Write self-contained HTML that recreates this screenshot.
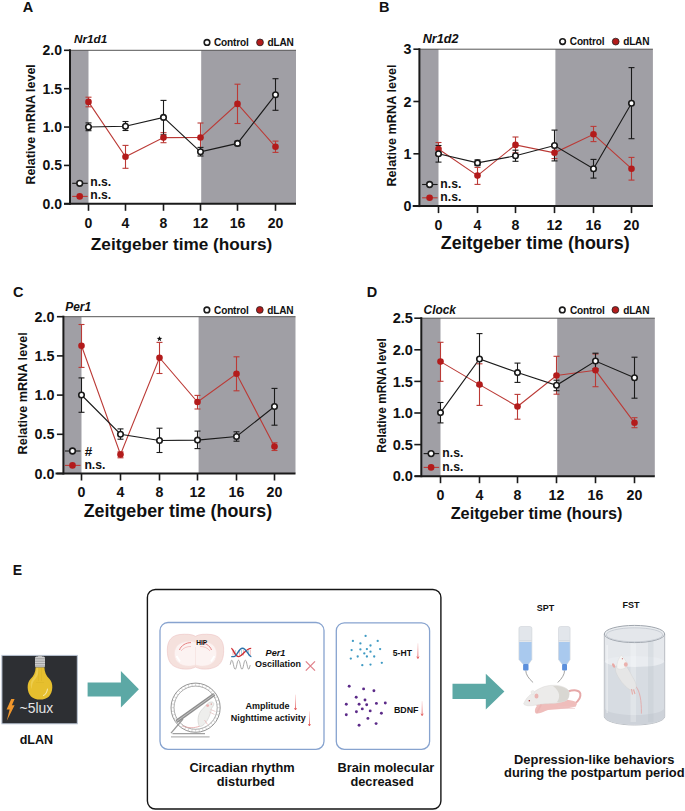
<!DOCTYPE html>
<html><head><meta charset="utf-8"><style>
html,body{margin:0;padding:0;background:#fff;}
svg{display:block;font-family:"Liberation Sans", sans-serif;}
</style></head><body>
<svg width="685" height="811" viewBox="0 0 685 811">
<rect width="685" height="811" fill="#fff"/>
<rect x="70" y="50.3" width="18.5" height="153.5" fill="#a09fa5"/>
<rect x="201.2" y="50.3" width="94.80000000000001" height="153.5" fill="#a09fa5"/>
<line x1="70" y1="50.3" x2="296" y2="50.3" stroke="#555" stroke-width="1"/>
<line x1="70" y1="49.3" x2="70" y2="204.8" stroke="#1a1a1a" stroke-width="2"/>
<line x1="64" y1="203.8" x2="296" y2="203.8" stroke="#1a1a1a" stroke-width="2"/>
<line x1="64" y1="203.8" x2="70" y2="203.8" stroke="#1a1a1a" stroke-width="1.6"/>
<text x="62" y="208.84" font-size="14" font-weight="bold" font-style="normal" text-anchor="end" fill="#111" >0.0</text>
<line x1="64" y1="165.425" x2="70" y2="165.425" stroke="#1a1a1a" stroke-width="1.6"/>
<text x="62" y="170.465" font-size="14" font-weight="bold" font-style="normal" text-anchor="end" fill="#111" >0.5</text>
<line x1="64" y1="127.05000000000001" x2="70" y2="127.05000000000001" stroke="#1a1a1a" stroke-width="1.6"/>
<text x="62" y="132.09" font-size="14" font-weight="bold" font-style="normal" text-anchor="end" fill="#111" >1.0</text>
<line x1="64" y1="88.67500000000001" x2="70" y2="88.67500000000001" stroke="#1a1a1a" stroke-width="1.6"/>
<text x="62" y="93.71500000000002" font-size="14" font-weight="bold" font-style="normal" text-anchor="end" fill="#111" >1.5</text>
<line x1="64" y1="50.30000000000001" x2="70" y2="50.30000000000001" stroke="#1a1a1a" stroke-width="1.6"/>
<text x="62" y="55.34000000000001" font-size="14" font-weight="bold" font-style="normal" text-anchor="end" fill="#111" >2.0</text>
<line x1="88.5" y1="203.8" x2="88.5" y2="210.8" stroke="#1a1a1a" stroke-width="1.6"/>
<text x="88.5" y="227.5" font-size="14" font-weight="bold" font-style="normal" text-anchor="middle" fill="#111" >0</text>
<line x1="125.5" y1="203.8" x2="125.5" y2="210.8" stroke="#1a1a1a" stroke-width="1.6"/>
<text x="125.5" y="227.5" font-size="14" font-weight="bold" font-style="normal" text-anchor="middle" fill="#111" >4</text>
<line x1="163.5" y1="203.8" x2="163.5" y2="210.8" stroke="#1a1a1a" stroke-width="1.6"/>
<text x="163.5" y="227.5" font-size="14" font-weight="bold" font-style="normal" text-anchor="middle" fill="#111" >8</text>
<line x1="200.5" y1="203.8" x2="200.5" y2="210.8" stroke="#1a1a1a" stroke-width="1.6"/>
<text x="200.5" y="227.5" font-size="14" font-weight="bold" font-style="normal" text-anchor="middle" fill="#111" >12</text>
<line x1="237.5" y1="203.8" x2="237.5" y2="210.8" stroke="#1a1a1a" stroke-width="1.6"/>
<text x="237.5" y="227.5" font-size="14" font-weight="bold" font-style="normal" text-anchor="middle" fill="#111" >16</text>
<line x1="275.5" y1="203.8" x2="275.5" y2="210.8" stroke="#1a1a1a" stroke-width="1.6"/>
<text x="275.5" y="227.5" font-size="14" font-weight="bold" font-style="normal" text-anchor="middle" fill="#111" >20</text>
<text x="181.6" y="249.5" font-size="17.2" font-weight="bold" font-style="normal" text-anchor="middle" fill="#111" >Zeitgeber time (hours)</text>
<text transform="translate(30.2,124.4) rotate(-90)" x="0" y="4.5" font-size="12.5" font-weight="bold" text-anchor="middle" fill="#111">Relative mRNA level</text>
<polyline points="88.5,101.9 125.5,156.8 163.5,137.6 200.5,137.5 237.5,103.9 275.5,146.8" fill="none" stroke="#bb3a36" stroke-width="1.1"/>
<polyline points="88.5,127 125.5,126.2 163.5,117.4 200.5,151.8 237.5,143.4 275.5,94.7" fill="none" stroke="#1a1a1a" stroke-width="1.1"/>
<line x1="88.5" y1="97.2" x2="88.5" y2="106.8" stroke="#bb3a36" stroke-width="1.1"/>
<line x1="85.5" y1="97.2" x2="91.5" y2="97.2" stroke="#bb3a36" stroke-width="1.1"/>
<line x1="85.5" y1="106.8" x2="91.5" y2="106.8" stroke="#bb3a36" stroke-width="1.1"/>
<line x1="125.5" y1="145.4" x2="125.5" y2="168.3" stroke="#bb3a36" stroke-width="1.1"/>
<line x1="122.5" y1="145.4" x2="128.5" y2="145.4" stroke="#bb3a36" stroke-width="1.1"/>
<line x1="122.5" y1="168.3" x2="128.5" y2="168.3" stroke="#bb3a36" stroke-width="1.1"/>
<line x1="163.5" y1="132.7" x2="163.5" y2="142.7" stroke="#bb3a36" stroke-width="1.1"/>
<line x1="160.5" y1="132.7" x2="166.5" y2="132.7" stroke="#bb3a36" stroke-width="1.1"/>
<line x1="160.5" y1="142.7" x2="166.5" y2="142.7" stroke="#bb3a36" stroke-width="1.1"/>
<line x1="200.5" y1="123" x2="200.5" y2="152" stroke="#bb3a36" stroke-width="1.1"/>
<line x1="197.5" y1="123" x2="203.5" y2="123" stroke="#bb3a36" stroke-width="1.1"/>
<line x1="197.5" y1="152" x2="203.5" y2="152" stroke="#bb3a36" stroke-width="1.1"/>
<line x1="237.5" y1="84.2" x2="237.5" y2="123.5" stroke="#bb3a36" stroke-width="1.1"/>
<line x1="234.5" y1="84.2" x2="240.5" y2="84.2" stroke="#bb3a36" stroke-width="1.1"/>
<line x1="234.5" y1="123.5" x2="240.5" y2="123.5" stroke="#bb3a36" stroke-width="1.1"/>
<line x1="275.5" y1="141.1" x2="275.5" y2="152.4" stroke="#bb3a36" stroke-width="1.1"/>
<line x1="272.5" y1="141.1" x2="278.5" y2="141.1" stroke="#bb3a36" stroke-width="1.1"/>
<line x1="272.5" y1="152.4" x2="278.5" y2="152.4" stroke="#bb3a36" stroke-width="1.1"/>
<line x1="88.5" y1="122.9" x2="88.5" y2="130.7" stroke="#1a1a1a" stroke-width="1.1"/>
<line x1="85.5" y1="122.9" x2="91.5" y2="122.9" stroke="#1a1a1a" stroke-width="1.1"/>
<line x1="85.5" y1="130.7" x2="91.5" y2="130.7" stroke="#1a1a1a" stroke-width="1.1"/>
<line x1="125.5" y1="121.5" x2="125.5" y2="130.5" stroke="#1a1a1a" stroke-width="1.1"/>
<line x1="122.5" y1="121.5" x2="128.5" y2="121.5" stroke="#1a1a1a" stroke-width="1.1"/>
<line x1="122.5" y1="130.5" x2="128.5" y2="130.5" stroke="#1a1a1a" stroke-width="1.1"/>
<line x1="163.5" y1="100.4" x2="163.5" y2="134.8" stroke="#1a1a1a" stroke-width="1.1"/>
<line x1="160.5" y1="100.4" x2="166.5" y2="100.4" stroke="#1a1a1a" stroke-width="1.1"/>
<line x1="160.5" y1="134.8" x2="166.5" y2="134.8" stroke="#1a1a1a" stroke-width="1.1"/>
<line x1="200.5" y1="147.4" x2="200.5" y2="156" stroke="#1a1a1a" stroke-width="1.1"/>
<line x1="197.5" y1="147.4" x2="203.5" y2="147.4" stroke="#1a1a1a" stroke-width="1.1"/>
<line x1="197.5" y1="156" x2="203.5" y2="156" stroke="#1a1a1a" stroke-width="1.1"/>
<line x1="237.5" y1="141.2" x2="237.5" y2="145.6" stroke="#1a1a1a" stroke-width="1.1"/>
<line x1="234.5" y1="141.2" x2="240.5" y2="141.2" stroke="#1a1a1a" stroke-width="1.1"/>
<line x1="234.5" y1="145.6" x2="240.5" y2="145.6" stroke="#1a1a1a" stroke-width="1.1"/>
<line x1="275.5" y1="78.7" x2="275.5" y2="110.3" stroke="#1a1a1a" stroke-width="1.1"/>
<line x1="272.5" y1="78.7" x2="278.5" y2="78.7" stroke="#1a1a1a" stroke-width="1.1"/>
<line x1="272.5" y1="110.3" x2="278.5" y2="110.3" stroke="#1a1a1a" stroke-width="1.1"/>
<circle cx="88.5" cy="101.9" r="3.3" fill="#b31b1b"/>
<circle cx="125.5" cy="156.8" r="3.3" fill="#b31b1b"/>
<circle cx="163.5" cy="137.6" r="3.3" fill="#b31b1b"/>
<circle cx="200.5" cy="137.5" r="3.3" fill="#b31b1b"/>
<circle cx="237.5" cy="103.9" r="3.3" fill="#b31b1b"/>
<circle cx="275.5" cy="146.8" r="3.3" fill="#b31b1b"/>
<circle cx="88.5" cy="127" r="2.75" fill="#fff" stroke="#1a1a1a" stroke-width="1.6"/>
<circle cx="125.5" cy="126.2" r="2.75" fill="#fff" stroke="#1a1a1a" stroke-width="1.6"/>
<circle cx="163.5" cy="117.4" r="2.75" fill="#fff" stroke="#1a1a1a" stroke-width="1.6"/>
<circle cx="200.5" cy="151.8" r="2.75" fill="#fff" stroke="#1a1a1a" stroke-width="1.6"/>
<circle cx="237.5" cy="143.4" r="2.75" fill="#fff" stroke="#1a1a1a" stroke-width="1.6"/>
<circle cx="275.5" cy="94.7" r="2.75" fill="#fff" stroke="#1a1a1a" stroke-width="1.6"/>
<line x1="72.2" y1="183.3" x2="87.7" y2="183.3" stroke="#1a1a1a" stroke-width="1.1"/>
<circle cx="79.7" cy="183.3" r="2.85" fill="#fff" stroke="#1a1a1a" stroke-width="1.6"/>
<line x1="72.2" y1="196.4" x2="87.7" y2="196.4" stroke="#bb3a36" stroke-width="1.1"/>
<circle cx="79.7" cy="196.4" r="3.3" fill="#b31b1b"/>
<text x="90.2" y="186.10000000000002" font-size="12.2" font-weight="bold" font-style="normal" text-anchor="start" fill="#111" >n.s.</text>
<text x="90.2" y="199.20000000000002" font-size="12.2" font-weight="bold" font-style="normal" text-anchor="start" fill="#111" >n.s.</text>
<circle cx="207" cy="42.4" r="2.8" fill="#fff" stroke="#1a1a1a" stroke-width="1.6"/>
<text x="214" y="46.137" font-size="10.1" font-weight="bold" font-style="normal" text-anchor="start" fill="#111" letter-spacing="-0.2">Control</text>
<circle cx="260" cy="42.4" r="3.4" fill="#b31b1b" stroke="#222" stroke-width="0.8"/>
<text x="267.6" y="46.137" font-size="10.1" font-weight="bold" font-style="normal" text-anchor="start" fill="#111" letter-spacing="-0.2">dLAN</text>
<text x="73.9" y="42.9" font-size="11.75" font-weight="bold" font-style="italic" text-anchor="start" fill="#111" >Nr1d1</text>
<text x="22.8" y="11.5" font-size="14.5" font-weight="bold" font-style="normal" text-anchor="start" fill="#111" >A</text>
<rect x="419.4" y="49.2" width="19.100000000000023" height="156.89999999999998" fill="#a09fa5"/>
<rect x="555.4" y="49.2" width="97.5" height="156.89999999999998" fill="#a09fa5"/>
<line x1="419.4" y1="49.2" x2="652.9" y2="49.2" stroke="#555" stroke-width="1"/>
<line x1="419.4" y1="48.2" x2="419.4" y2="207.1" stroke="#1a1a1a" stroke-width="2"/>
<line x1="412.7" y1="206.1" x2="652.9" y2="206.1" stroke="#1a1a1a" stroke-width="2"/>
<line x1="413.4" y1="206.1" x2="419.4" y2="206.1" stroke="#1a1a1a" stroke-width="1.6"/>
<text x="411.5" y="211.248" font-size="14.3" font-weight="bold" font-style="normal" text-anchor="end" fill="#111" >0</text>
<line x1="413.4" y1="153.8" x2="419.4" y2="153.8" stroke="#1a1a1a" stroke-width="1.6"/>
<text x="411.5" y="158.948" font-size="14.3" font-weight="bold" font-style="normal" text-anchor="end" fill="#111" >1</text>
<line x1="413.4" y1="101.50000000000001" x2="419.4" y2="101.50000000000001" stroke="#1a1a1a" stroke-width="1.6"/>
<text x="411.5" y="106.64800000000001" font-size="14.3" font-weight="bold" font-style="normal" text-anchor="end" fill="#111" >2</text>
<line x1="413.4" y1="49.20000000000002" x2="419.4" y2="49.20000000000002" stroke="#1a1a1a" stroke-width="1.6"/>
<text x="411.5" y="54.34800000000001" font-size="14.3" font-weight="bold" font-style="normal" text-anchor="end" fill="#111" >3</text>
<line x1="438.5" y1="206.1" x2="438.5" y2="213.1" stroke="#1a1a1a" stroke-width="1.6"/>
<text x="438.5" y="230" font-size="14.2" font-weight="bold" font-style="normal" text-anchor="middle" fill="#111" >0</text>
<line x1="477.5" y1="206.1" x2="477.5" y2="213.1" stroke="#1a1a1a" stroke-width="1.6"/>
<text x="477.5" y="230" font-size="14.2" font-weight="bold" font-style="normal" text-anchor="middle" fill="#111" >4</text>
<line x1="515.5" y1="206.1" x2="515.5" y2="213.1" stroke="#1a1a1a" stroke-width="1.6"/>
<text x="515.5" y="230" font-size="14.2" font-weight="bold" font-style="normal" text-anchor="middle" fill="#111" >8</text>
<line x1="554.5" y1="206.1" x2="554.5" y2="213.1" stroke="#1a1a1a" stroke-width="1.6"/>
<text x="554.5" y="230" font-size="14.2" font-weight="bold" font-style="normal" text-anchor="middle" fill="#111" >12</text>
<line x1="593.5" y1="206.1" x2="593.5" y2="213.1" stroke="#1a1a1a" stroke-width="1.6"/>
<text x="593.5" y="230" font-size="14.2" font-weight="bold" font-style="normal" text-anchor="middle" fill="#111" >16</text>
<line x1="631.5" y1="206.1" x2="631.5" y2="213.1" stroke="#1a1a1a" stroke-width="1.6"/>
<text x="631.5" y="230" font-size="14.2" font-weight="bold" font-style="normal" text-anchor="middle" fill="#111" >20</text>
<text x="535.2" y="249.2" font-size="17.9" font-weight="bold" font-style="normal" text-anchor="middle" fill="#111" >Zeitgeber time (hours)</text>
<text transform="translate(391,125.5) rotate(-90)" x="0" y="4.571999999999999" font-size="12.7" font-weight="bold" text-anchor="middle" fill="#111">Relative mRNA level</text>
<polyline points="438.5,149 477.5,175.6 515.5,144.9 554.5,152.8 593.5,134.3 631.5,168.7" fill="none" stroke="#bb3a36" stroke-width="1.1"/>
<polyline points="438.5,153.7 477.5,162.9 515.5,155.8 554.5,145.5 593.5,168.7 631.5,103.2" fill="none" stroke="#1a1a1a" stroke-width="1.1"/>
<line x1="438.5" y1="142.5" x2="438.5" y2="155.5" stroke="#bb3a36" stroke-width="1.1"/>
<line x1="435.5" y1="142.5" x2="441.5" y2="142.5" stroke="#bb3a36" stroke-width="1.1"/>
<line x1="435.5" y1="155.5" x2="441.5" y2="155.5" stroke="#bb3a36" stroke-width="1.1"/>
<line x1="477.5" y1="167.4" x2="477.5" y2="184.4" stroke="#bb3a36" stroke-width="1.1"/>
<line x1="474.5" y1="167.4" x2="480.5" y2="167.4" stroke="#bb3a36" stroke-width="1.1"/>
<line x1="474.5" y1="184.4" x2="480.5" y2="184.4" stroke="#bb3a36" stroke-width="1.1"/>
<line x1="515.5" y1="137" x2="515.5" y2="152.8" stroke="#bb3a36" stroke-width="1.1"/>
<line x1="512.5" y1="137" x2="518.5" y2="137" stroke="#bb3a36" stroke-width="1.1"/>
<line x1="512.5" y1="152.8" x2="518.5" y2="152.8" stroke="#bb3a36" stroke-width="1.1"/>
<line x1="554.5" y1="147" x2="554.5" y2="158.6" stroke="#bb3a36" stroke-width="1.1"/>
<line x1="551.5" y1="147" x2="557.5" y2="147" stroke="#bb3a36" stroke-width="1.1"/>
<line x1="551.5" y1="158.6" x2="557.5" y2="158.6" stroke="#bb3a36" stroke-width="1.1"/>
<line x1="593.5" y1="126.4" x2="593.5" y2="141.6" stroke="#bb3a36" stroke-width="1.1"/>
<line x1="590.5" y1="126.4" x2="596.5" y2="126.4" stroke="#bb3a36" stroke-width="1.1"/>
<line x1="590.5" y1="141.6" x2="596.5" y2="141.6" stroke="#bb3a36" stroke-width="1.1"/>
<line x1="631.5" y1="157.4" x2="631.5" y2="180.1" stroke="#bb3a36" stroke-width="1.1"/>
<line x1="628.5" y1="157.4" x2="634.5" y2="157.4" stroke="#bb3a36" stroke-width="1.1"/>
<line x1="628.5" y1="180.1" x2="634.5" y2="180.1" stroke="#bb3a36" stroke-width="1.1"/>
<line x1="438.5" y1="145.5" x2="438.5" y2="162.1" stroke="#1a1a1a" stroke-width="1.1"/>
<line x1="435.5" y1="145.5" x2="441.5" y2="145.5" stroke="#1a1a1a" stroke-width="1.1"/>
<line x1="435.5" y1="162.1" x2="441.5" y2="162.1" stroke="#1a1a1a" stroke-width="1.1"/>
<line x1="477.5" y1="159.9" x2="477.5" y2="165.6" stroke="#1a1a1a" stroke-width="1.1"/>
<line x1="474.5" y1="159.9" x2="480.5" y2="159.9" stroke="#1a1a1a" stroke-width="1.1"/>
<line x1="474.5" y1="165.6" x2="480.5" y2="165.6" stroke="#1a1a1a" stroke-width="1.1"/>
<line x1="515.5" y1="150.2" x2="515.5" y2="161.3" stroke="#1a1a1a" stroke-width="1.1"/>
<line x1="512.5" y1="150.2" x2="518.5" y2="150.2" stroke="#1a1a1a" stroke-width="1.1"/>
<line x1="512.5" y1="161.3" x2="518.5" y2="161.3" stroke="#1a1a1a" stroke-width="1.1"/>
<line x1="554.5" y1="130.1" x2="554.5" y2="160.9" stroke="#1a1a1a" stroke-width="1.1"/>
<line x1="551.5" y1="130.1" x2="557.5" y2="130.1" stroke="#1a1a1a" stroke-width="1.1"/>
<line x1="551.5" y1="160.9" x2="557.5" y2="160.9" stroke="#1a1a1a" stroke-width="1.1"/>
<line x1="593.5" y1="159.4" x2="593.5" y2="178.1" stroke="#1a1a1a" stroke-width="1.1"/>
<line x1="590.5" y1="159.4" x2="596.5" y2="159.4" stroke="#1a1a1a" stroke-width="1.1"/>
<line x1="590.5" y1="178.1" x2="596.5" y2="178.1" stroke="#1a1a1a" stroke-width="1.1"/>
<line x1="631.5" y1="67.6" x2="631.5" y2="138.7" stroke="#1a1a1a" stroke-width="1.1"/>
<line x1="628.5" y1="67.6" x2="634.5" y2="67.6" stroke="#1a1a1a" stroke-width="1.1"/>
<line x1="628.5" y1="138.7" x2="634.5" y2="138.7" stroke="#1a1a1a" stroke-width="1.1"/>
<circle cx="438.5" cy="149" r="3.3" fill="#b31b1b"/>
<circle cx="477.5" cy="175.6" r="3.3" fill="#b31b1b"/>
<circle cx="515.5" cy="144.9" r="3.3" fill="#b31b1b"/>
<circle cx="554.5" cy="152.8" r="3.3" fill="#b31b1b"/>
<circle cx="593.5" cy="134.3" r="3.3" fill="#b31b1b"/>
<circle cx="631.5" cy="168.7" r="3.3" fill="#b31b1b"/>
<circle cx="438.5" cy="153.7" r="2.75" fill="#fff" stroke="#1a1a1a" stroke-width="1.6"/>
<circle cx="477.5" cy="162.9" r="2.75" fill="#fff" stroke="#1a1a1a" stroke-width="1.6"/>
<circle cx="515.5" cy="155.8" r="2.75" fill="#fff" stroke="#1a1a1a" stroke-width="1.6"/>
<circle cx="554.5" cy="145.5" r="2.75" fill="#fff" stroke="#1a1a1a" stroke-width="1.6"/>
<circle cx="593.5" cy="168.7" r="2.75" fill="#fff" stroke="#1a1a1a" stroke-width="1.6"/>
<circle cx="631.5" cy="103.2" r="2.75" fill="#fff" stroke="#1a1a1a" stroke-width="1.6"/>
<line x1="422.1" y1="184.5" x2="437.6" y2="184.5" stroke="#1a1a1a" stroke-width="1.1"/>
<circle cx="429.6" cy="184.5" r="2.85" fill="#fff" stroke="#1a1a1a" stroke-width="1.6"/>
<line x1="422.1" y1="197.8" x2="437.6" y2="197.8" stroke="#bb3a36" stroke-width="1.1"/>
<circle cx="429.6" cy="197.8" r="3.3" fill="#b31b1b"/>
<text x="440.3" y="188.0" font-size="12.2" font-weight="bold" font-style="normal" text-anchor="start" fill="#111" >n.s.</text>
<text x="440.3" y="201.3" font-size="12.2" font-weight="bold" font-style="normal" text-anchor="start" fill="#111" >n.s.</text>
<circle cx="562.6" cy="41.6" r="2.8" fill="#fff" stroke="#1a1a1a" stroke-width="1.6"/>
<text x="569.8" y="45.337" font-size="10.1" font-weight="bold" font-style="normal" text-anchor="start" fill="#111" letter-spacing="-0.2">Control</text>
<circle cx="615.7" cy="41.6" r="3.4" fill="#b31b1b" stroke="#222" stroke-width="0.8"/>
<text x="623.2" y="45.337" font-size="10.1" font-weight="bold" font-style="normal" text-anchor="start" fill="#111" letter-spacing="-0.2">dLAN</text>
<text x="422.7" y="42.8" font-size="12.67" font-weight="bold" font-style="italic" text-anchor="start" fill="#111" >Nr1d2</text>
<text x="378.9" y="11.5" font-size="14.5" font-weight="bold" font-style="normal" text-anchor="start" fill="#111" >B</text>
<rect x="63.4" y="316.7" width="18.1" height="156.8" fill="#a09fa5"/>
<rect x="198.6" y="316.7" width="96.9" height="156.8" fill="#a09fa5"/>
<line x1="63.4" y1="316.7" x2="295.5" y2="316.7" stroke="#555" stroke-width="1"/>
<line x1="63.4" y1="315.7" x2="63.4" y2="474.5" stroke="#1a1a1a" stroke-width="2"/>
<line x1="55.5" y1="473.5" x2="295.5" y2="473.5" stroke="#1a1a1a" stroke-width="2"/>
<line x1="56.9" y1="473.5" x2="63.4" y2="473.5" stroke="#1a1a1a" stroke-width="1.6"/>
<text x="54.5" y="478.684" font-size="14.4" font-weight="bold" font-style="normal" text-anchor="end" fill="#111" >0.0</text>
<line x1="56.9" y1="434.3" x2="63.4" y2="434.3" stroke="#1a1a1a" stroke-width="1.6"/>
<text x="54.5" y="439.48400000000004" font-size="14.4" font-weight="bold" font-style="normal" text-anchor="end" fill="#111" >0.5</text>
<line x1="56.9" y1="395.1" x2="63.4" y2="395.1" stroke="#1a1a1a" stroke-width="1.6"/>
<text x="54.5" y="400.28400000000005" font-size="14.4" font-weight="bold" font-style="normal" text-anchor="end" fill="#111" >1.0</text>
<line x1="56.9" y1="355.9" x2="63.4" y2="355.9" stroke="#1a1a1a" stroke-width="1.6"/>
<text x="54.5" y="361.084" font-size="14.4" font-weight="bold" font-style="normal" text-anchor="end" fill="#111" >1.5</text>
<line x1="56.9" y1="316.7" x2="63.4" y2="316.7" stroke="#1a1a1a" stroke-width="1.6"/>
<text x="54.5" y="321.884" font-size="14.4" font-weight="bold" font-style="normal" text-anchor="end" fill="#111" >2.0</text>
<line x1="81.5" y1="473.5" x2="81.5" y2="480.5" stroke="#1a1a1a" stroke-width="1.6"/>
<text x="81.5" y="497" font-size="14.2" font-weight="bold" font-style="normal" text-anchor="middle" fill="#111" >0</text>
<line x1="120.5" y1="473.5" x2="120.5" y2="480.5" stroke="#1a1a1a" stroke-width="1.6"/>
<text x="120.5" y="497" font-size="14.2" font-weight="bold" font-style="normal" text-anchor="middle" fill="#111" >4</text>
<line x1="159.5" y1="473.5" x2="159.5" y2="480.5" stroke="#1a1a1a" stroke-width="1.6"/>
<text x="159.5" y="497" font-size="14.2" font-weight="bold" font-style="normal" text-anchor="middle" fill="#111" >8</text>
<line x1="197.5" y1="473.5" x2="197.5" y2="480.5" stroke="#1a1a1a" stroke-width="1.6"/>
<text x="197.5" y="497" font-size="14.2" font-weight="bold" font-style="normal" text-anchor="middle" fill="#111" >12</text>
<line x1="236.5" y1="473.5" x2="236.5" y2="480.5" stroke="#1a1a1a" stroke-width="1.6"/>
<text x="236.5" y="497" font-size="14.2" font-weight="bold" font-style="normal" text-anchor="middle" fill="#111" >16</text>
<line x1="274.5" y1="473.5" x2="274.5" y2="480.5" stroke="#1a1a1a" stroke-width="1.6"/>
<text x="274.5" y="497" font-size="14.2" font-weight="bold" font-style="normal" text-anchor="middle" fill="#111" >20</text>
<text x="177.9" y="517.2" font-size="17.85" font-weight="bold" font-style="normal" text-anchor="middle" fill="#111" >Zeitgeber time (hours)</text>
<text transform="translate(22.8,393.3) rotate(-90)" x="0" y="4.571999999999999" font-size="12.7" font-weight="bold" text-anchor="middle" fill="#111">Relative mRNA level</text>
<polyline points="81.5,345.7 120.5,454.5 159.5,357.7 197.5,402 236.5,373.7 274.5,446.5" fill="none" stroke="#bb3a36" stroke-width="1.1"/>
<polyline points="81.5,395 120.5,434.2 159.5,440.5 197.5,440.1 236.5,436.5 274.5,406.5" fill="none" stroke="#1a1a1a" stroke-width="1.1"/>
<line x1="81.5" y1="324.5" x2="81.5" y2="367.4" stroke="#bb3a36" stroke-width="1.1"/>
<line x1="78.5" y1="324.5" x2="84.5" y2="324.5" stroke="#bb3a36" stroke-width="1.1"/>
<line x1="78.5" y1="367.4" x2="84.5" y2="367.4" stroke="#bb3a36" stroke-width="1.1"/>
<line x1="120.5" y1="451.9" x2="120.5" y2="457.8" stroke="#bb3a36" stroke-width="1.1"/>
<line x1="117.5" y1="451.9" x2="123.5" y2="451.9" stroke="#bb3a36" stroke-width="1.1"/>
<line x1="117.5" y1="457.8" x2="123.5" y2="457.8" stroke="#bb3a36" stroke-width="1.1"/>
<line x1="159.5" y1="342.4" x2="159.5" y2="373.5" stroke="#bb3a36" stroke-width="1.1"/>
<line x1="156.5" y1="342.4" x2="162.5" y2="342.4" stroke="#bb3a36" stroke-width="1.1"/>
<line x1="156.5" y1="373.5" x2="162.5" y2="373.5" stroke="#bb3a36" stroke-width="1.1"/>
<line x1="197.5" y1="395.4" x2="197.5" y2="409" stroke="#bb3a36" stroke-width="1.1"/>
<line x1="194.5" y1="395.4" x2="200.5" y2="395.4" stroke="#bb3a36" stroke-width="1.1"/>
<line x1="194.5" y1="409" x2="200.5" y2="409" stroke="#bb3a36" stroke-width="1.1"/>
<line x1="236.5" y1="356.8" x2="236.5" y2="390.8" stroke="#bb3a36" stroke-width="1.1"/>
<line x1="233.5" y1="356.8" x2="239.5" y2="356.8" stroke="#bb3a36" stroke-width="1.1"/>
<line x1="233.5" y1="390.8" x2="239.5" y2="390.8" stroke="#bb3a36" stroke-width="1.1"/>
<line x1="274.5" y1="442.8" x2="274.5" y2="450.5" stroke="#bb3a36" stroke-width="1.1"/>
<line x1="271.5" y1="442.8" x2="277.5" y2="442.8" stroke="#bb3a36" stroke-width="1.1"/>
<line x1="271.5" y1="450.5" x2="277.5" y2="450.5" stroke="#bb3a36" stroke-width="1.1"/>
<line x1="81.5" y1="377.9" x2="81.5" y2="412.3" stroke="#1a1a1a" stroke-width="1.1"/>
<line x1="78.5" y1="377.9" x2="84.5" y2="377.9" stroke="#1a1a1a" stroke-width="1.1"/>
<line x1="78.5" y1="412.3" x2="84.5" y2="412.3" stroke="#1a1a1a" stroke-width="1.1"/>
<line x1="120.5" y1="428.9" x2="120.5" y2="439.2" stroke="#1a1a1a" stroke-width="1.1"/>
<line x1="117.5" y1="428.9" x2="123.5" y2="428.9" stroke="#1a1a1a" stroke-width="1.1"/>
<line x1="117.5" y1="439.2" x2="123.5" y2="439.2" stroke="#1a1a1a" stroke-width="1.1"/>
<line x1="159.5" y1="428.2" x2="159.5" y2="452.5" stroke="#1a1a1a" stroke-width="1.1"/>
<line x1="156.5" y1="428.2" x2="162.5" y2="428.2" stroke="#1a1a1a" stroke-width="1.1"/>
<line x1="156.5" y1="452.5" x2="162.5" y2="452.5" stroke="#1a1a1a" stroke-width="1.1"/>
<line x1="197.5" y1="431.1" x2="197.5" y2="448.6" stroke="#1a1a1a" stroke-width="1.1"/>
<line x1="194.5" y1="431.1" x2="200.5" y2="431.1" stroke="#1a1a1a" stroke-width="1.1"/>
<line x1="194.5" y1="448.6" x2="200.5" y2="448.6" stroke="#1a1a1a" stroke-width="1.1"/>
<line x1="236.5" y1="431.8" x2="236.5" y2="441.2" stroke="#1a1a1a" stroke-width="1.1"/>
<line x1="233.5" y1="431.8" x2="239.5" y2="431.8" stroke="#1a1a1a" stroke-width="1.1"/>
<line x1="233.5" y1="441.2" x2="239.5" y2="441.2" stroke="#1a1a1a" stroke-width="1.1"/>
<line x1="274.5" y1="388.4" x2="274.5" y2="425.2" stroke="#1a1a1a" stroke-width="1.1"/>
<line x1="271.5" y1="388.4" x2="277.5" y2="388.4" stroke="#1a1a1a" stroke-width="1.1"/>
<line x1="271.5" y1="425.2" x2="277.5" y2="425.2" stroke="#1a1a1a" stroke-width="1.1"/>
<circle cx="81.5" cy="345.7" r="3.3" fill="#b31b1b"/>
<circle cx="120.5" cy="454.5" r="3.3" fill="#b31b1b"/>
<circle cx="159.5" cy="357.7" r="3.3" fill="#b31b1b"/>
<circle cx="197.5" cy="402" r="3.3" fill="#b31b1b"/>
<circle cx="236.5" cy="373.7" r="3.3" fill="#b31b1b"/>
<circle cx="274.5" cy="446.5" r="3.3" fill="#b31b1b"/>
<circle cx="81.5" cy="395" r="2.75" fill="#fff" stroke="#1a1a1a" stroke-width="1.6"/>
<circle cx="120.5" cy="434.2" r="2.75" fill="#fff" stroke="#1a1a1a" stroke-width="1.6"/>
<circle cx="159.5" cy="440.5" r="2.75" fill="#fff" stroke="#1a1a1a" stroke-width="1.6"/>
<circle cx="197.5" cy="440.1" r="2.75" fill="#fff" stroke="#1a1a1a" stroke-width="1.6"/>
<circle cx="236.5" cy="436.5" r="2.75" fill="#fff" stroke="#1a1a1a" stroke-width="1.6"/>
<circle cx="274.5" cy="406.5" r="2.75" fill="#fff" stroke="#1a1a1a" stroke-width="1.6"/>
<line x1="65.0" y1="451" x2="80.5" y2="451" stroke="#1a1a1a" stroke-width="1.1"/>
<circle cx="72.5" cy="451" r="2.85" fill="#fff" stroke="#1a1a1a" stroke-width="1.6"/>
<line x1="65.0" y1="465.4" x2="80.5" y2="465.4" stroke="#bb3a36" stroke-width="1.1"/>
<circle cx="72.5" cy="465.4" r="3.3" fill="#b31b1b"/>
<text x="84.80000000000001" y="456.0" font-size="13.5" font-weight="bold" font-style="normal" text-anchor="start" fill="#111" >#</text>
<text x="84.4" y="469.09999999999997" font-size="12.2" font-weight="bold" font-style="normal" text-anchor="start" fill="#111" >n.s.</text>
<circle cx="206.9" cy="309.9" r="2.8" fill="#fff" stroke="#1a1a1a" stroke-width="1.6"/>
<text x="214.1" y="313.637" font-size="10.1" font-weight="bold" font-style="normal" text-anchor="start" fill="#111" letter-spacing="-0.2">Control</text>
<circle cx="259.8" cy="309.9" r="3.4" fill="#b31b1b" stroke="#222" stroke-width="0.8"/>
<text x="267.3" y="313.637" font-size="10.1" font-weight="bold" font-style="normal" text-anchor="start" fill="#111" letter-spacing="-0.2">dLAN</text>
<text x="65.2" y="311.2" font-size="11.94" font-weight="bold" font-style="italic" text-anchor="start" fill="#111" >Per1</text>
<text x="13.1" y="297" font-size="14.5" font-weight="bold" font-style="normal" text-anchor="start" fill="#111" >C</text>
<rect x="421.3" y="318.2" width="19.19999999999999" height="158.0" fill="#a09fa5"/>
<rect x="557.2" y="318.2" width="97.59999999999991" height="158.0" fill="#a09fa5"/>
<line x1="421.3" y1="318.2" x2="654.8" y2="318.2" stroke="#555" stroke-width="1"/>
<line x1="421.3" y1="317.2" x2="421.3" y2="477.2" stroke="#1a1a1a" stroke-width="2"/>
<line x1="414.7" y1="476.2" x2="654.8" y2="476.2" stroke="#1a1a1a" stroke-width="2"/>
<line x1="414.3" y1="476.2" x2="421.3" y2="476.2" stroke="#1a1a1a" stroke-width="1.6"/>
<text x="413" y="481.45599999999996" font-size="14.6" font-weight="bold" font-style="normal" text-anchor="end" fill="#111" >0.0</text>
<line x1="414.3" y1="444.59999999999997" x2="421.3" y2="444.59999999999997" stroke="#1a1a1a" stroke-width="1.6"/>
<text x="413" y="449.85599999999994" font-size="14.6" font-weight="bold" font-style="normal" text-anchor="end" fill="#111" >0.5</text>
<line x1="414.3" y1="413.0" x2="421.3" y2="413.0" stroke="#1a1a1a" stroke-width="1.6"/>
<text x="413" y="418.256" font-size="14.6" font-weight="bold" font-style="normal" text-anchor="end" fill="#111" >1.0</text>
<line x1="414.3" y1="381.4" x2="421.3" y2="381.4" stroke="#1a1a1a" stroke-width="1.6"/>
<text x="413" y="386.65599999999995" font-size="14.6" font-weight="bold" font-style="normal" text-anchor="end" fill="#111" >1.5</text>
<line x1="414.3" y1="349.79999999999995" x2="421.3" y2="349.79999999999995" stroke="#1a1a1a" stroke-width="1.6"/>
<text x="413" y="355.0559999999999" font-size="14.6" font-weight="bold" font-style="normal" text-anchor="end" fill="#111" >2.0</text>
<line x1="414.3" y1="318.2" x2="421.3" y2="318.2" stroke="#1a1a1a" stroke-width="1.6"/>
<text x="413" y="323.45599999999996" font-size="14.6" font-weight="bold" font-style="normal" text-anchor="end" fill="#111" >2.5</text>
<line x1="440.5" y1="476.2" x2="440.5" y2="483.2" stroke="#1a1a1a" stroke-width="1.6"/>
<text x="440.5" y="500" font-size="14.2" font-weight="bold" font-style="normal" text-anchor="middle" fill="#111" >0</text>
<line x1="479.5" y1="476.2" x2="479.5" y2="483.2" stroke="#1a1a1a" stroke-width="1.6"/>
<text x="479.5" y="500" font-size="14.2" font-weight="bold" font-style="normal" text-anchor="middle" fill="#111" >4</text>
<line x1="517.5" y1="476.2" x2="517.5" y2="483.2" stroke="#1a1a1a" stroke-width="1.6"/>
<text x="517.5" y="500" font-size="14.2" font-weight="bold" font-style="normal" text-anchor="middle" fill="#111" >8</text>
<line x1="556.5" y1="476.2" x2="556.5" y2="483.2" stroke="#1a1a1a" stroke-width="1.6"/>
<text x="556.5" y="500" font-size="14.2" font-weight="bold" font-style="normal" text-anchor="middle" fill="#111" >12</text>
<line x1="595.5" y1="476.2" x2="595.5" y2="483.2" stroke="#1a1a1a" stroke-width="1.6"/>
<text x="595.5" y="500" font-size="14.2" font-weight="bold" font-style="normal" text-anchor="middle" fill="#111" >16</text>
<line x1="634.5" y1="476.2" x2="634.5" y2="483.2" stroke="#1a1a1a" stroke-width="1.6"/>
<text x="634.5" y="500" font-size="14.2" font-weight="bold" font-style="normal" text-anchor="middle" fill="#111" >20</text>
<text x="536.6" y="518.7" font-size="16.3" font-weight="bold" font-style="normal" text-anchor="middle" fill="#111" >Zeitgeber time (hours)</text>
<text transform="translate(382,395.5) rotate(-90)" x="0" y="4.284" font-size="11.9" font-weight="bold" text-anchor="middle" fill="#111">Relative mRNA level</text>
<polyline points="440.5,361.6 479.5,384.6 517.5,406.5 556.5,375.5 595.5,370.3 634.5,422.8" fill="none" stroke="#bb3a36" stroke-width="1.1"/>
<polyline points="440.5,412.6 479.5,359 517.5,372.6 556.5,385.3 595.5,361 634.5,377.8" fill="none" stroke="#1a1a1a" stroke-width="1.1"/>
<line x1="440.5" y1="342.3" x2="440.5" y2="381.3" stroke="#bb3a36" stroke-width="1.1"/>
<line x1="437.5" y1="342.3" x2="443.5" y2="342.3" stroke="#bb3a36" stroke-width="1.1"/>
<line x1="437.5" y1="381.3" x2="443.5" y2="381.3" stroke="#bb3a36" stroke-width="1.1"/>
<line x1="479.5" y1="363.8" x2="479.5" y2="405.4" stroke="#bb3a36" stroke-width="1.1"/>
<line x1="476.5" y1="363.8" x2="482.5" y2="363.8" stroke="#bb3a36" stroke-width="1.1"/>
<line x1="476.5" y1="405.4" x2="482.5" y2="405.4" stroke="#bb3a36" stroke-width="1.1"/>
<line x1="517.5" y1="394.4" x2="517.5" y2="419.2" stroke="#bb3a36" stroke-width="1.1"/>
<line x1="514.5" y1="394.4" x2="520.5" y2="394.4" stroke="#bb3a36" stroke-width="1.1"/>
<line x1="514.5" y1="419.2" x2="520.5" y2="419.2" stroke="#bb3a36" stroke-width="1.1"/>
<line x1="556.5" y1="356.3" x2="556.5" y2="394.2" stroke="#bb3a36" stroke-width="1.1"/>
<line x1="553.5" y1="356.3" x2="559.5" y2="356.3" stroke="#bb3a36" stroke-width="1.1"/>
<line x1="553.5" y1="394.2" x2="559.5" y2="394.2" stroke="#bb3a36" stroke-width="1.1"/>
<line x1="595.5" y1="354" x2="595.5" y2="386.7" stroke="#bb3a36" stroke-width="1.1"/>
<line x1="592.5" y1="354" x2="598.5" y2="354" stroke="#bb3a36" stroke-width="1.1"/>
<line x1="592.5" y1="386.7" x2="598.5" y2="386.7" stroke="#bb3a36" stroke-width="1.1"/>
<line x1="634.5" y1="417.7" x2="634.5" y2="427.7" stroke="#bb3a36" stroke-width="1.1"/>
<line x1="631.5" y1="417.7" x2="637.5" y2="417.7" stroke="#bb3a36" stroke-width="1.1"/>
<line x1="631.5" y1="427.7" x2="637.5" y2="427.7" stroke="#bb3a36" stroke-width="1.1"/>
<line x1="440.5" y1="402.5" x2="440.5" y2="422.9" stroke="#1a1a1a" stroke-width="1.1"/>
<line x1="437.5" y1="402.5" x2="443.5" y2="402.5" stroke="#1a1a1a" stroke-width="1.1"/>
<line x1="437.5" y1="422.9" x2="443.5" y2="422.9" stroke="#1a1a1a" stroke-width="1.1"/>
<line x1="479.5" y1="333.6" x2="479.5" y2="385.7" stroke="#1a1a1a" stroke-width="1.1"/>
<line x1="476.5" y1="333.6" x2="482.5" y2="333.6" stroke="#1a1a1a" stroke-width="1.1"/>
<line x1="476.5" y1="385.7" x2="482.5" y2="385.7" stroke="#1a1a1a" stroke-width="1.1"/>
<line x1="517.5" y1="363.1" x2="517.5" y2="382.4" stroke="#1a1a1a" stroke-width="1.1"/>
<line x1="514.5" y1="363.1" x2="520.5" y2="363.1" stroke="#1a1a1a" stroke-width="1.1"/>
<line x1="514.5" y1="382.4" x2="520.5" y2="382.4" stroke="#1a1a1a" stroke-width="1.1"/>
<line x1="556.5" y1="380.2" x2="556.5" y2="390.7" stroke="#1a1a1a" stroke-width="1.1"/>
<line x1="553.5" y1="380.2" x2="559.5" y2="380.2" stroke="#1a1a1a" stroke-width="1.1"/>
<line x1="553.5" y1="390.7" x2="559.5" y2="390.7" stroke="#1a1a1a" stroke-width="1.1"/>
<line x1="595.5" y1="353.2" x2="595.5" y2="368.8" stroke="#1a1a1a" stroke-width="1.1"/>
<line x1="592.5" y1="353.2" x2="598.5" y2="353.2" stroke="#1a1a1a" stroke-width="1.1"/>
<line x1="592.5" y1="368.8" x2="598.5" y2="368.8" stroke="#1a1a1a" stroke-width="1.1"/>
<line x1="634.5" y1="357.2" x2="634.5" y2="398.2" stroke="#1a1a1a" stroke-width="1.1"/>
<line x1="631.5" y1="357.2" x2="637.5" y2="357.2" stroke="#1a1a1a" stroke-width="1.1"/>
<line x1="631.5" y1="398.2" x2="637.5" y2="398.2" stroke="#1a1a1a" stroke-width="1.1"/>
<circle cx="440.5" cy="361.6" r="3.3" fill="#b31b1b"/>
<circle cx="479.5" cy="384.6" r="3.3" fill="#b31b1b"/>
<circle cx="517.5" cy="406.5" r="3.3" fill="#b31b1b"/>
<circle cx="556.5" cy="375.5" r="3.3" fill="#b31b1b"/>
<circle cx="595.5" cy="370.3" r="3.3" fill="#b31b1b"/>
<circle cx="634.5" cy="422.8" r="3.3" fill="#b31b1b"/>
<circle cx="440.5" cy="412.6" r="2.75" fill="#fff" stroke="#1a1a1a" stroke-width="1.6"/>
<circle cx="479.5" cy="359" r="2.75" fill="#fff" stroke="#1a1a1a" stroke-width="1.6"/>
<circle cx="517.5" cy="372.6" r="2.75" fill="#fff" stroke="#1a1a1a" stroke-width="1.6"/>
<circle cx="556.5" cy="385.3" r="2.75" fill="#fff" stroke="#1a1a1a" stroke-width="1.6"/>
<circle cx="595.5" cy="361" r="2.75" fill="#fff" stroke="#1a1a1a" stroke-width="1.6"/>
<circle cx="634.5" cy="377.8" r="2.75" fill="#fff" stroke="#1a1a1a" stroke-width="1.6"/>
<line x1="423.6" y1="453.6" x2="439.1" y2="453.6" stroke="#1a1a1a" stroke-width="1.1"/>
<circle cx="431.1" cy="453.6" r="2.85" fill="#fff" stroke="#1a1a1a" stroke-width="1.6"/>
<line x1="423.6" y1="467.4" x2="439.1" y2="467.4" stroke="#bb3a36" stroke-width="1.1"/>
<circle cx="431.1" cy="467.4" r="3.3" fill="#b31b1b"/>
<text x="442.3" y="457.40000000000003" font-size="12.2" font-weight="bold" font-style="normal" text-anchor="start" fill="#111" >n.s.</text>
<text x="442.3" y="471.2" font-size="12.2" font-weight="bold" font-style="normal" text-anchor="start" fill="#111" >n.s.</text>
<circle cx="562.3" cy="309.9" r="2.8" fill="#fff" stroke="#1a1a1a" stroke-width="1.6"/>
<text x="570" y="313.637" font-size="10.1" font-weight="bold" font-style="normal" text-anchor="start" fill="#111" letter-spacing="-0.2">Control</text>
<circle cx="615.4" cy="309.9" r="3.4" fill="#b31b1b" stroke="#222" stroke-width="0.8"/>
<text x="623.2" y="313.637" font-size="10.1" font-weight="bold" font-style="normal" text-anchor="start" fill="#111" letter-spacing="-0.2">dLAN</text>
<text x="423.6" y="313.6" font-size="11.9" font-weight="bold" font-style="italic" text-anchor="start" fill="#111" >Clock</text>
<text x="366.7" y="297" font-size="14.5" font-weight="bold" font-style="normal" text-anchor="start" fill="#111" >D</text>
<polygon points="159.50,335.90 160.21,337.83 162.26,337.90 160.64,339.17 161.20,341.15 159.50,340.00 157.80,341.15 158.36,339.17 156.74,337.90 158.79,337.83" fill="#111"/>
<text x="12.8" y="575.2" font-size="14" font-weight="bold" font-style="normal" text-anchor="start" fill="#111">E</text>
<rect x="1.9" y="655.4" width="75.4" height="68.4" fill="#2d2f33" stroke="#b9c4d3" stroke-width="1"/>
<rect x="35" y="656.5" width="10" height="11" rx="1.5" fill="#cfcfcf"/>
<line x1="35" y1="658.8" x2="45" y2="658.8" stroke="#8a8a8a" stroke-width="0.7"/>
<line x1="35" y1="661.2" x2="45" y2="661.2" stroke="#8a8a8a" stroke-width="0.7"/>
<line x1="35" y1="663.6" x2="45" y2="663.6" stroke="#8a8a8a" stroke-width="0.7"/>
<line x1="35" y1="666" x2="45" y2="666" stroke="#8a8a8a" stroke-width="0.7"/>
<rect x="38" y="655.6" width="4" height="1.6" rx="0.8" fill="#bdbdbd"/>
<path d="M35.6,667.5 L44.4,667.5 C44.6,672 46,676 49.5,679 C53.5,683 53.2,692 49,696.5 C45,700.6 35,700.6 31,696.5 C26.8,692 26.5,683 30.5,679 C34,676 35.4,672 35.6,667.5 Z" fill="#e6bf2e"/>
<path d="M36.5,668 L39,668 C39,672 38,676 35,679.5 C32.5,682 31.5,686 32,689 C30,686 30.5,681 33,678.5 C35.6,675.5 36.4,672 36.5,668 Z" fill="#efd35c" opacity="0.7"/>
<path d="M47.5,689 C47,692.5 45.5,694.5 43.5,695.5" stroke="#f6e7a6" stroke-width="1.1" fill="none" stroke-linecap="round"/>
<path d="M38.5,668 L38.5,681 M41.5,668 L41.5,681 M36,682.5 L44,682.5" stroke="#d9b326" stroke-width="0.5" fill="none"/>
<polygon points="11.2,699 14.6,699 11.9,705.2 14.6,705.2 6.8,720.8 9.6,709.6 6.6,709.6" fill="#f0962c"/>
<text x="19.6" y="712.6" font-size="13.9" font-weight="normal" font-style="normal" text-anchor="start" fill="#e4e4e4">~5lux</text>
<text x="36.4" y="743.8" font-size="12.5" font-weight="bold" font-style="normal" text-anchor="middle" fill="#111">dLAN</text>
<polygon points="87.6,682.6 120.9,682.6 120.9,671 138.9,689.3 120.9,707.6 120.9,696.4 87.6,696.4" fill="#5ca8a5"/>
<rect x="147.4" y="589.5" width="293.5" height="219.5" rx="8" ry="8" fill="#fff" stroke="#151515" stroke-width="1.4"/>
<rect x="160" y="622.5" width="164" height="126.8" rx="8" ry="8" fill="#fff" stroke="#87a3cf" stroke-width="1.3"/>
<rect x="336.3" y="622.8" width="93.3" height="126.6" rx="8" ry="8" fill="#fff" stroke="#87a3cf" stroke-width="1.3"/>
<path d="M195.5,636.3 C192,634 186,634 180,634.5 C172,635.5 168,640 167.4,648 C167,656 168.5,662 173,665.5 C178,669 186,669.8 191,668.6 C193,668 194.5,667.6 195.5,667 C196.5,667.6 198,668 200,668.6 C205,669.8 213,669 218,665.5 C222.5,662 224,656 223.6,648 C223,640 219,635.5 211,634.5 C205,634 199,634 195.5,636.3 Z" fill="#f5e1dd" stroke="#ecc2c2" stroke-width="0.6"/>
<path d="M195.5,642.5 C191,640.5 183,641 178,645 C173.5,649 173.5,657 177,661.5 C180.5,665.5 187,666.8 192,665.8 L195.5,665 L199,665.8 C204,666.8 210.5,665.5 214,661.5 C217.5,657 217.5,649 213,645 C208,641 200,640.5 195.5,642.5 Z" fill="#fcf3f2" stroke="#f7e2e0" stroke-width="0.5"/>
<path d="M179.5,650 C181,645.5 186,642.6 191,642.6 M211.5,650 C210,645.5 205,642.6 200,642.6" stroke="#e27272" stroke-width="0.9" fill="none"/>
<path d="M181,651 C183,648 187,646.3 191,646.5 M210,651 C208,648 204,646.3 200,646.5" stroke="#eea5a5" stroke-width="0.6" fill="none"/>
<path d="M176.5,656 L180,661.5 M214.5,656 L211,661.5" stroke="#fff" stroke-width="1.8" fill="none"/>
<path d="M195.5,647 L195.5,665" stroke="#f3d8d6" stroke-width="0.5"/>
<text x="196.2" y="645.2" font-size="6.6" font-weight="bold" font-style="normal" text-anchor="start" fill="#111">HIP</text>
<line x1="233" y1="650" x2="233" y2="655.5" stroke="#f3b5b5" stroke-width="0.9"/>
<line x1="235.3" y1="650" x2="235.3" y2="655.5" stroke="#9fd3e0" stroke-width="0.9"/>
<line x1="239.5" y1="650" x2="239.5" y2="655.5" stroke="#f3b5b5" stroke-width="0.9"/>
<line x1="241.5" y1="650" x2="241.5" y2="655.5" stroke="#9fd3e0" stroke-width="0.9"/>
<line x1="243.5" y1="650" x2="243.5" y2="655.5" stroke="#f3b5b5" stroke-width="0.9"/>
<line x1="248.5" y1="650" x2="248.5" y2="655.5" stroke="#9fd3e0" stroke-width="0.9"/>
<line x1="250.3" y1="650" x2="250.3" y2="655.5" stroke="#f3b5b5" stroke-width="0.9"/>
<path d="M231.2,648.4 C233.5,648.4 234.5,656.6 238.5,656.6 C242.5,656.6 245.5,648.4 251.2,648.4" stroke="#cf2f35" stroke-width="1.4" fill="none"/>
<path d="M231.2,656.6 L234,656.6 C237,656.6 238.5,648.3 242.5,648.3 C246.5,648.3 248.5,656.6 251.4,656.6" stroke="#2b73aa" stroke-width="1.4" fill="none"/>
<path d="M230.2,664.7 C230.875,662.7 231.02499999999998,660.2 231.7,660.2 C233.27499999999998,660.2 233.625,669.2 235.2,669.2 C236.685,669.2 237.015,660.2 238.5,660.2 C240.075,660.2 240.425,669.2 242,669.2 C243.485,669.2 243.815,660.2 245.3,660.2 C246.875,660.2 247.22500000000002,669.2 248.8,669.2 C249.565,669.2 249.735,665 250.5,665" stroke="#8a8a8a" stroke-width="0.75" fill="none"/>
<text x="265.6" y="655.8" font-size="9.1" font-weight="bold" font-style="italic" text-anchor="start" fill="#111">Per1</text>
<text x="254.9" y="667.4" font-size="9" font-weight="bold" font-style="normal" text-anchor="start" fill="#111">Oscillation</text>
<path d="M305.8,661.4 L315,670.6 M315,661.4 L305.8,670.6" stroke="#e0808a" stroke-width="1.3"/>
<circle cx="195.6" cy="707.7" r="24.6" fill="none" stroke="#7a7a7a" stroke-width="0.8"/>
<circle cx="195.6" cy="707.7" r="21.6" fill="none" stroke="#8a8a8a" stroke-width="0.7"/>
<line x1="217.20" y1="707.70" x2="220.20" y2="707.70" stroke="#a0a0a0" stroke-width="0.4"/>
<line x1="216.93" y1="711.08" x2="219.90" y2="711.55" stroke="#a0a0a0" stroke-width="0.4"/>
<line x1="216.14" y1="714.37" x2="219.00" y2="715.30" stroke="#a0a0a0" stroke-width="0.4"/>
<line x1="214.85" y1="717.51" x2="217.52" y2="718.87" stroke="#a0a0a0" stroke-width="0.4"/>
<line x1="213.07" y1="720.40" x2="215.50" y2="722.16" stroke="#a0a0a0" stroke-width="0.4"/>
<line x1="210.87" y1="722.97" x2="212.99" y2="725.09" stroke="#a0a0a0" stroke-width="0.4"/>
<line x1="208.30" y1="725.17" x2="210.06" y2="727.60" stroke="#a0a0a0" stroke-width="0.4"/>
<line x1="205.41" y1="726.95" x2="206.77" y2="729.62" stroke="#a0a0a0" stroke-width="0.4"/>
<line x1="202.27" y1="728.24" x2="203.20" y2="731.10" stroke="#a0a0a0" stroke-width="0.4"/>
<line x1="198.98" y1="729.03" x2="199.45" y2="732.00" stroke="#a0a0a0" stroke-width="0.4"/>
<line x1="195.60" y1="729.30" x2="195.60" y2="732.30" stroke="#a0a0a0" stroke-width="0.4"/>
<line x1="192.22" y1="729.03" x2="191.75" y2="732.00" stroke="#a0a0a0" stroke-width="0.4"/>
<line x1="188.93" y1="728.24" x2="188.00" y2="731.10" stroke="#a0a0a0" stroke-width="0.4"/>
<line x1="185.79" y1="726.95" x2="184.43" y2="729.62" stroke="#a0a0a0" stroke-width="0.4"/>
<line x1="182.90" y1="725.17" x2="181.14" y2="727.60" stroke="#a0a0a0" stroke-width="0.4"/>
<line x1="180.33" y1="722.97" x2="178.21" y2="725.09" stroke="#a0a0a0" stroke-width="0.4"/>
<line x1="178.13" y1="720.40" x2="175.70" y2="722.16" stroke="#a0a0a0" stroke-width="0.4"/>
<line x1="176.35" y1="717.51" x2="173.68" y2="718.87" stroke="#a0a0a0" stroke-width="0.4"/>
<line x1="175.06" y1="714.37" x2="172.20" y2="715.30" stroke="#a0a0a0" stroke-width="0.4"/>
<line x1="174.27" y1="711.08" x2="171.30" y2="711.55" stroke="#a0a0a0" stroke-width="0.4"/>
<line x1="174.00" y1="707.70" x2="171.00" y2="707.70" stroke="#a0a0a0" stroke-width="0.4"/>
<line x1="174.27" y1="704.32" x2="171.30" y2="703.85" stroke="#a0a0a0" stroke-width="0.4"/>
<line x1="175.06" y1="701.03" x2="172.20" y2="700.10" stroke="#a0a0a0" stroke-width="0.4"/>
<line x1="176.35" y1="697.89" x2="173.68" y2="696.53" stroke="#a0a0a0" stroke-width="0.4"/>
<line x1="178.13" y1="695.00" x2="175.70" y2="693.24" stroke="#a0a0a0" stroke-width="0.4"/>
<line x1="180.33" y1="692.43" x2="178.21" y2="690.31" stroke="#a0a0a0" stroke-width="0.4"/>
<line x1="182.90" y1="690.23" x2="181.14" y2="687.80" stroke="#a0a0a0" stroke-width="0.4"/>
<line x1="185.79" y1="688.45" x2="184.43" y2="685.78" stroke="#a0a0a0" stroke-width="0.4"/>
<line x1="188.93" y1="687.16" x2="188.00" y2="684.30" stroke="#a0a0a0" stroke-width="0.4"/>
<line x1="192.22" y1="686.37" x2="191.75" y2="683.40" stroke="#a0a0a0" stroke-width="0.4"/>
<line x1="195.60" y1="686.10" x2="195.60" y2="683.10" stroke="#a0a0a0" stroke-width="0.4"/>
<line x1="198.98" y1="686.37" x2="199.45" y2="683.40" stroke="#a0a0a0" stroke-width="0.4"/>
<line x1="202.27" y1="687.16" x2="203.20" y2="684.30" stroke="#a0a0a0" stroke-width="0.4"/>
<line x1="205.41" y1="688.45" x2="206.77" y2="685.78" stroke="#a0a0a0" stroke-width="0.4"/>
<line x1="208.30" y1="690.23" x2="210.06" y2="687.80" stroke="#a0a0a0" stroke-width="0.4"/>
<line x1="210.87" y1="692.43" x2="212.99" y2="690.31" stroke="#a0a0a0" stroke-width="0.4"/>
<line x1="213.07" y1="695.00" x2="215.50" y2="693.24" stroke="#a0a0a0" stroke-width="0.4"/>
<line x1="214.85" y1="697.89" x2="217.52" y2="696.53" stroke="#a0a0a0" stroke-width="0.4"/>
<line x1="216.14" y1="701.03" x2="219.00" y2="700.10" stroke="#a0a0a0" stroke-width="0.4"/>
<line x1="216.93" y1="704.32" x2="219.90" y2="703.85" stroke="#a0a0a0" stroke-width="0.4"/>
<path d="M171,733.2 L183,719" stroke="#9a9a9a" stroke-width="1.3" fill="none"/>
<path d="M172.5,733.6 L205,733.6" stroke="#a0a0a0" stroke-width="1.2"/>
<path d="M171,736.9 L209.6,736.9" stroke="#b4b4b4" stroke-width="1.2"/>
<path d="M200,726 C194,728.5 188,728 182.5,726" stroke="#e39a9a" stroke-width="0.7" fill="none"/>
<path d="M198.5,724 C197,718 199,712 203,708.5 C205.5,706 207,703.5 209.5,702.3 C211.5,701.5 213.5,702 213.8,703.5 C214,705 212.5,707 211.5,708.5 C211,712 209.5,716.5 207.5,720 C205.5,723.5 202.5,726.5 200,726.5 C199,726 198.7,725 198.5,724 Z" fill="#eeeeec" stroke="#c4c4c2" stroke-width="0.5"/>
<ellipse cx="207.6" cy="705.6" rx="1.5" ry="1.3" fill="#ecb2b2"/>
<circle cx="211.2" cy="704" r="0.5" fill="#c04040"/>
<path d="M210.5,709.5 L215.5,711.5 M209.5,712 L214.5,714.5" stroke="#e9c6c6" stroke-width="0.8"/>
<path d="M204.5,720 L207.5,724.5" stroke="#e9c0c0" stroke-width="0.9"/>
<path d="M176.4,721.5 L214.3,694.4" stroke="#8f8f8f" stroke-width="3.4" fill="none"/>
<path d="M176.4,721.5 L214.3,694.4" stroke="#c2c2c2" stroke-width="1" fill="none"/>
<text x="245.4" y="708.7" font-size="9" font-weight="bold" font-style="normal" text-anchor="start" fill="#111">Amplitude</text>
<text x="230.8" y="721.4" font-size="9" font-weight="bold" font-style="normal" text-anchor="start" fill="#111">Nighttime activity</text>
<defs><linearGradient id="ag" x1="0" y1="0" x2="0" y2="1"><stop offset="0" stop-color="#e88" stop-opacity="0.25"/><stop offset="1" stop-color="#d33" stop-opacity="0.95"/></linearGradient></defs>
<rect x="295.1" y="694.6" width="0.8" height="14.899999999999977" fill="url(#ag)"/>
<path d="M294.4,708 L295.5,710 L296.6,708" stroke="#d44" stroke-width="0.7" fill="none"/>
<rect x="309.0" y="711.4" width="0.8" height="14.100000000000023" fill="url(#ag)"/>
<path d="M308.29999999999995,724 L309.4,726 L310.5,724" stroke="#d44" stroke-width="0.7" fill="none"/>
<circle cx="365.6" cy="635.9" r="1.15" fill="#3f9ac3"/>
<circle cx="352.9" cy="640.9" r="1.15" fill="#3f9ac3"/>
<circle cx="377.7" cy="640.9" r="1.15" fill="#3f9ac3"/>
<circle cx="360.4" cy="643.4" r="1.15" fill="#3f9ac3"/>
<circle cx="370.5" cy="645.5" r="1.15" fill="#3f9ac3"/>
<circle cx="351.6" cy="650.1" r="1.15" fill="#3f9ac3"/>
<circle cx="360.4" cy="649.4" r="1.15" fill="#3f9ac3"/>
<circle cx="366.9" cy="649.1" r="1.15" fill="#3f9ac3"/>
<circle cx="380.1" cy="649.1" r="1.15" fill="#3f9ac3"/>
<circle cx="370.5" cy="651.7" r="1.15" fill="#3f9ac3"/>
<circle cx="364.3" cy="653.4" r="1.15" fill="#3f9ac3"/>
<circle cx="357.7" cy="656.5" r="1.15" fill="#3f9ac3"/>
<circle cx="366.9" cy="656.5" r="1.15" fill="#3f9ac3"/>
<circle cx="374.2" cy="656.5" r="1.15" fill="#3f9ac3"/>
<circle cx="350.8" cy="658.6" r="1.15" fill="#3f9ac3"/>
<circle cx="362.3" cy="665.2" r="1.15" fill="#3f9ac3"/>
<circle cx="370.5" cy="664.6" r="1.15" fill="#3f9ac3"/>
<circle cx="381.8" cy="662.8" r="1.15" fill="#3f9ac3"/>
<circle cx="349.2" cy="686.3" r="1.45" fill="#5b2a88"/>
<circle cx="363.6" cy="688.9" r="1.45" fill="#5b2a88"/>
<circle cx="373.9" cy="690.8" r="1.45" fill="#5b2a88"/>
<circle cx="356.2" cy="697.3" r="1.45" fill="#5b2a88"/>
<circle cx="365" cy="700" r="1.45" fill="#5b2a88"/>
<circle cx="346.3" cy="704.3" r="1.45" fill="#5b2a88"/>
<circle cx="359.1" cy="704.3" r="1.45" fill="#5b2a88"/>
<circle cx="366.7" cy="704.7" r="1.45" fill="#5b2a88"/>
<circle cx="376.4" cy="703.4" r="1.45" fill="#5b2a88"/>
<circle cx="385.3" cy="703" r="1.45" fill="#5b2a88"/>
<circle cx="362.3" cy="708.9" r="1.45" fill="#5b2a88"/>
<circle cx="370.2" cy="710.9" r="1.45" fill="#5b2a88"/>
<circle cx="356.4" cy="711.8" r="1.45" fill="#5b2a88"/>
<circle cx="381.4" cy="713.2" r="1.45" fill="#5b2a88"/>
<circle cx="346.3" cy="714.8" r="1.45" fill="#5b2a88"/>
<circle cx="367.9" cy="718.4" r="1.45" fill="#5b2a88"/>
<circle cx="359.1" cy="725.3" r="1.45" fill="#5b2a88"/>
<circle cx="376.1" cy="723.6" r="1.45" fill="#5b2a88"/>
<text x="392.8" y="655.6" font-size="8.6" font-weight="bold" font-style="normal" text-anchor="start" fill="#111">5-HT</text>
<text x="393.9" y="712.8" font-size="8.9" font-weight="bold" font-style="normal" text-anchor="start" fill="#111">BDNF</text>
<rect x="417.5" y="643.3" width="0.8" height="14.800000000000068" fill="url(#ag)"/>
<path d="M416.79999999999995,656.6 L417.9,658.6 L419.0,656.6" stroke="#d44" stroke-width="0.7" fill="none"/>
<rect x="421.70000000000005" y="701.2" width="0.8" height="14.0" fill="url(#ag)"/>
<path d="M421.0,713.7 L422.1,715.7 L423.20000000000005,713.7" stroke="#d44" stroke-width="0.7" fill="none"/>
<text x="242" y="772" font-size="12.8" font-weight="bold" font-style="normal" text-anchor="middle" fill="#111">Circadian rhythm</text>
<text x="245.8" y="786.1" font-size="12.8" font-weight="bold" font-style="normal" text-anchor="middle" fill="#111">disturbed</text>
<text x="385.9" y="772" font-size="12.8" font-weight="bold" font-style="normal" text-anchor="middle" fill="#111">Brain molecular</text>
<text x="382.1" y="786.1" font-size="12.8" font-weight="bold" font-style="normal" text-anchor="middle" fill="#111">decreased</text>
<polygon points="452.5,683.7 485.8,683.7 485.8,673.7 504.4,691.6 485.8,709.5 485.8,699.1 452.5,699.1" fill="#5ca8a5"/>
<text x="545.5" y="611.2" font-size="9" font-weight="bold" font-style="normal" text-anchor="middle" fill="#111">SPT</text>
<text x="631" y="608.3" font-size="9" font-weight="bold" font-style="normal" text-anchor="middle" fill="#111">FST</text>
<path d="M518.9,628.5 Q518.9,626.5 520.9,626.5 L529.9,626.5 Q531.9,626.5 531.9,628.5 L531.9,659.5 L528.5,664.3 L523.1,664.3 L518.9,659.5 Z" fill="#e2e6eb" stroke="#c8ccd2" stroke-width="0.5"/>
<path d="M519.1999999999999,642 L531.6,642 L531.6,659.5 L528.5,664 L523.1,664 L519.1999999999999,659.5 Z" fill="#a9c9ee"/>
<line x1="519.1999999999999" y1="640.5" x2="531.6" y2="640.5" stroke="#d0d5dc" stroke-width="0.6"/>
<rect x="523.1" y="664" width="5.399999999999977" height="6.5" rx="1" fill="#5b8fdc"/>
<path d="M525.8,670.5 Q525.8,676 533.1,682.5" stroke="#8a8a8a" stroke-width="0.8" fill="none"/>
<path d="M558.5,628.5 Q558.5,626.5 560.5,626.5 L568.1,626.5 Q570.1,626.5 570.1,628.5 L570.1,659.5 L567,664.3 L562.1,664.3 L558.5,659.5 Z" fill="#e2e6eb" stroke="#c8ccd2" stroke-width="0.5"/>
<path d="M558.8,642 L569.8000000000001,642 L569.8000000000001,659.5 L567,664 L562.1,664 L558.8,659.5 Z" fill="#a9c9ee"/>
<line x1="558.8" y1="640.5" x2="569.8000000000001" y2="640.5" stroke="#d0d5dc" stroke-width="0.6"/>
<rect x="562.1" y="664" width="4.899999999999977" height="6.5" rx="1" fill="#5b8fdc"/>
<path d="M564.55,670.5 Q564.55,676 557.8,682.5" stroke="#8a8a8a" stroke-width="0.8" fill="none"/>
<path d="M568,691.5 C574,689.5 579.5,690 580.3,693.5 C581,697 578.5,701 574.5,703.8" stroke="#e6a8a8" stroke-width="2" fill="none" stroke-linecap="round"/>
<path d="M535,702 C542,700 552,701 560,700 C566,699.5 571,700 575,701.5 C578,703 577,706 574,707 C566,709 556,709.5 548,710 C543,712 539,714 536,713.5 C534,712 535,708 537,706 C535,705 534,703 535,702 Z" fill="#efbdbb"/>
<path d="M558,707 L576,706.5 M560,708.5 L575,708.5" stroke="#ecc4c4" stroke-width="0.6"/>
<path d="M523.6,704 C525,700 528,696 532,693.5 C538,688.5 545,685.5 552,685.3 C559,685 566,687 568.5,690.5 C570,694 569,698 566.5,700.5 C560,703.5 552,703.5 545,703.8 C538,704.5 533,706 528,705.8 C526,705.6 524.5,705 523.6,704 Z" fill="#ecebea" stroke="#d6d4d2" stroke-width="0.4"/>
<path d="M553,686 C560,685.5 566,687.5 568.5,690.5 C570,694 569,698 566.5,700.5 C563,702 560,702.5 557,702 C560,698 561,692 553,686 Z" fill="#d9d7d2"/>
<path d="M531,693 C530.5,691 532,690 533.5,690.6 C535,691.5 534.5,694 533,694.8 Z" fill="#eeeeec" stroke="#d8d8d8" stroke-width="0.3"/>
<ellipse cx="536.5" cy="696" rx="2" ry="2.6" fill="#eab4b2"/>
<circle cx="529.3" cy="700.7" r="0.75" fill="#b02a2a"/>
<path d="M541,705 L537,712.5" stroke="#ebb5b3" stroke-width="1.6" stroke-linecap="round"/>
<path d="M604.3,634 L604.3,716.5 A30.2,8.5 0 0 0 664.7,716.5 L664.7,634 Z" fill="#e5e8ec" stroke="#a9aeb5" stroke-width="0.8"/>
<path d="M604.8,661.5 L604.8,716.5 A29.7,8 0 0 0 664.2,716.5 L664.2,661.5 Z" fill="#d7dce2"/>
<path d="M604.8,708 L604.8,716.5 A29.7,8 0 0 0 664.2,716.5 L664.2,708 A29.7,7 0 0 1 604.8,708 Z" fill="#cdd2d9"/>
<ellipse cx="634.5" cy="661.5" rx="29.7" ry="5.5" fill="#e9ecf0"/>
<rect x="630.5" y="640" width="5.5" height="82" fill="#ffffff" opacity="0.25"/>
<rect x="648" y="640" width="5.5" height="82" fill="#b8bfc9" opacity="0.25"/>
<rect x="606.5" y="645" width="1.2" height="68" fill="#ffffff" opacity="0.5"/>
<ellipse cx="634.5" cy="634" rx="30.2" ry="8.6" fill="#eaedf0" stroke="#a0a6ae" stroke-width="1"/>
<ellipse cx="634.5" cy="634.8" rx="28.2" ry="7" fill="#e4e7eb" stroke="#bcc2ca" stroke-width="0.7"/>
<path d="M636,686.5 C640,692 641.5,700 641.4,713.6" stroke="#e3a9a9" stroke-width="0.9" fill="none"/>
<path d="M615.5,669 C616,665 618.5,663 622,663.5 C626,664.5 629,670 632,676 C635,681 637,685 636,688 C635,691 631,690.5 628,688.5 C623.5,685 619,679 617,674.5 C616,672.5 615.4,670.5 615.5,669 Z" fill="#e6e6e6" stroke="#cfcfcf" stroke-width="0.4"/>
<path d="M617,668 C616.5,664 618,660 619.5,657.5 C620.5,655.5 621.5,655 622.3,656 C624,658.5 626,661 627.5,663.5 C628,666.5 625,668.5 622,669 C619.5,669.4 617.5,669 617,668 Z" fill="#f4f4f3" stroke="#d6d6d6" stroke-width="0.4"/>
<ellipse cx="625.8" cy="664.5" rx="1.9" ry="2.3" fill="#ebb1ad"/>
<ellipse cx="613.6" cy="665.5" rx="1.3" ry="2.4" transform="rotate(-25 613.6 665.5)" fill="#e9a9a5"/>
<path d="M631.5,689 L632.5,694.5 M633.5,689.5 L635,694" stroke="#e6aaa6" stroke-width="1.1"/>
<circle cx="622.3" cy="658.8" r="0.5" fill="#b03030"/>
<text x="594.3" y="764.4" font-size="12.9" font-weight="bold" font-style="normal" text-anchor="middle" fill="#111">Depression-like behaviors</text>
<text x="594.3" y="777.4" font-size="12.9" font-weight="bold" font-style="normal" text-anchor="middle" fill="#111">during the postpartum period</text>
<!--E-->
</svg>
</body></html>
